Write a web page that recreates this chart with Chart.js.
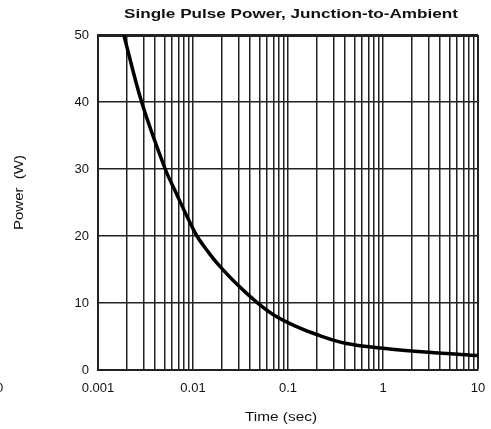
<!DOCTYPE html>
<html>
<head>
<meta charset="utf-8">
<script src="https://cdn.jsdelivr.net/npm/chart.js@4/dist/chart.umd.min.js"></script>
<style>
  html, body { margin: 0; padding: 0; background: #fff; }
  #wrap { width: 491px; height: 429px; position: relative; }
</style>
</head>
<body>
<div id="wrap"><canvas id="c" width="491" height="429"></canvas></div>
<script>
// ---- data ----
const timeSec = [0.00187, 0.00288, 0.0051, 0.0067, 0.0084, 0.011, 0.0145, 0.0182, 0.03, 0.047, 0.073, 0.118, 0.2, 0.4, 1, 3, 10];
const powerW  = [50, 40, 30, 26.3, 23.3, 20, 17.6, 15.85, 12.6, 10.1, 8.1, 6.6, 5.3, 4.0, 3.25, 2.65, 2.15];
const xGridValues = [0.001,0.002,0.003,0.004,0.005,0.006,0.007,0.008,0.009,
                     0.01,0.02,0.03,0.04,0.05,0.06,0.07,0.08,0.09,
                     0.1,0.2,0.3,0.4,0.5,0.6,0.7,0.8,0.9,
                     1,2,3,4,5,6,7,8,9,10];
const xTickLabels = ['0.001', '0.01', '0.1', '1', '10'];
const yTicks = [0, 10, 20, 30, 40, 50];
const chartTitle = 'Single Pulse Power, Junction-to-Ambient';
const xTitle = 'Time (sec)';
const yTitle = 'Power  (W)';

const FONT = '"Liberation Sans", Arial, Helvetica, sans-serif';

function drawFitted(ctx, text, cx, cy, width, font, rot) {
  ctx.save();
  ctx.font = font;
  const w = ctx.measureText(text).width;
  ctx.translate(cx, cy);
  if (rot) ctx.rotate(rot);
  ctx.scale(width / w, 1);
  ctx.textAlign = 'center';
  ctx.textBaseline = 'middle';
  ctx.fillStyle = '#111';
  ctx.fillText(text, 0, 0);
  ctx.restore();
}

const textPlugin = {
  id: 'texts',
  afterDraw(chart) {
    const ctx = chart.ctx;
    drawFitted(ctx, chartTitle, 291, 14, 334, 'bold 13px ' + FONT, 0);
    drawFitted(ctx, xTitle, 281, 418, 72, '12px ' + FONT, 0);
    drawFitted(ctx, yTitle, 20, 192.5, 75, '12px ' + FONT, -Math.PI / 2);
    // clipped character at the left edge
    ctx.save();
    ctx.font = '13px ' + FONT;
    ctx.fillStyle = '#111';
    ctx.textBaseline = 'middle';
    ctx.textAlign = 'left';
    ctx.fillText('0', -4, 388);
    ctx.restore();
  }
};

new Chart(document.getElementById('c'), {
  type: 'line',
  data: {
    datasets: [{
      data: timeSec.map((t, i) => ({ x: t, y: powerW[i] })),
      borderColor: '#000',
      borderWidth: 3.5,
      pointRadius: 0,
      tension: 0.35,
      fill: false
    }]
  },
  options: {
    responsive: false,
    animation: false,
    devicePixelRatio: 1,
    layout: { padding: { top: 35, right: 13, left: 0, bottom: 0 } },
    plugins: { legend: { display: false }, title: { display: false }, tooltip: { enabled: false } },
    scales: {
      x: {
        type: 'logarithmic',
        min: 0.001,
        max: 10,
        afterBuildTicks(scale) { scale.ticks = xGridValues.map(v => ({ value: v })); },
        afterFit(scale) { scale.height = 59; scale.paddingRight = 0; scale.paddingLeft = 0; },
        ticks: {
          autoSkip: false,
          maxRotation: 0,
          padding: 11,
          color: '#111',
          font: { family: FONT, size: 13 },
          callback(v) {
            const lbl = xTickLabels.find(s => Math.abs(parseFloat(s) - v) < 1e-9);
            return lbl === undefined ? '' : lbl;
          }
        },
        grid: {
          color: '#222',
          lineWidth: (c) => (c.tick && c.tick.value === 10 ? 2 : 1.5),
          drawTicks: false
        },
        border: { color: '#222', width: 2 }
      },
      y: {
        type: 'linear',
        min: 0,
        max: 50,
        afterBuildTicks(scale) { scale.ticks = yTicks.map(v => ({ value: v })); },
        afterFit(scale) { scale.width = 98; scale.paddingTop = 0; scale.paddingBottom = 0; },
        ticks: {
          padding: 9,
          color: '#111',
          font: { family: FONT, size: 13 }
        },
        grid: {
          color: '#222',
          lineWidth: (c) => (c.tick && c.tick.value === 50 ? 3 : 1.5),
          drawTicks: false
        },
        border: { color: '#222', width: 2 }
      }
    }
  },
  plugins: [textPlugin]
});
</script>
</body>
</html>
